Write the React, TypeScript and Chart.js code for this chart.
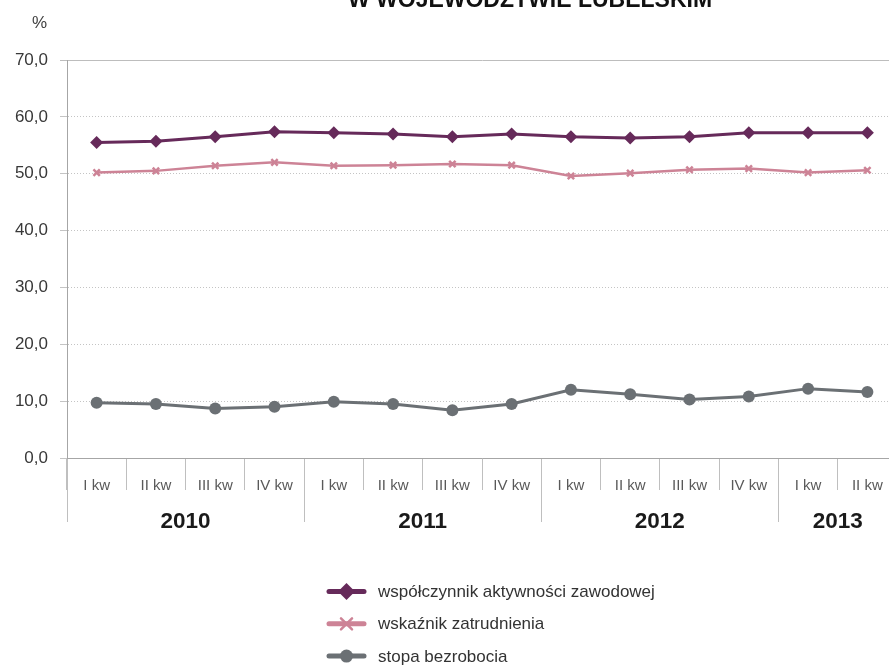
import React, { useEffect, useRef } from 'react';
import { Chart, registerables } from 'chart.js';

Chart.register(...registerables);

// ---- data ----
const quarterLabels = ['I kw', 'II kw', 'III kw', 'IV kw', 'I kw', 'II kw', 'III kw', 'IV kw', 'I kw', 'II kw', 'III kw', 'IV kw', 'I kw', 'II kw'];
const yearLabels = ['2010', '2011', '2012', '2013'];
const yearQuarterCounts = [4, 4, 4, 2];
const activityRate = [55.5, 55.7, 56.5, 57.4, 57.2, 57.0, 56.5, 57.0, 56.5, 56.3, 56.5, 57.2, 57.2, 57.2];
const employmentRate = [50.2, 50.5, 51.4, 52.0, 51.4, 51.5, 51.7, 51.5, 49.6, 50.1, 50.7, 50.9, 50.2, 50.6];
const unemploymentRate = [9.7, 9.5, 8.7, 9.0, 9.9, 9.5, 8.4, 9.5, 12.0, 11.2, 10.3, 10.8, 12.2, 11.6];
const seriesNames = ['współczynnik aktywności zawodowej', 'wskaźnik zatrudnienia', 'stopa bezrobocia'];
const yMin = 0;
const yMax = 70;
const yStep = 10;
const titleText = 'W WOJEWÓDZTWIE LUBELSKIM';
const unitText = '%';

// ---- derived year boundaries / centres (in category index units) ----
const yearBoundaries: number[] = [-0.5];
const yearCenters: number[] = [];
{
  let start = -0.5;
  yearQuarterCounts.forEach((n) => {
    yearCenters.push(start + n / 2);
    start += n;
    yearBoundaries.push(start);
  });
}

const SANS = "'Liberation Sans', Arial, sans-serif";

const colors = ['#662a5a', '#cd8396', '#6b7074'];

function drawMarker(ctx: CanvasRenderingContext2D, style: string, x: number, y: number, color: string) {
  ctx.save();
  ctx.fillStyle = color;
  ctx.strokeStyle = color;
  if (style === 'rectRot') {
    const r = 8.5;
    ctx.beginPath();
    ctx.moveTo(x - r, y);
    ctx.lineTo(x, y - r);
    ctx.lineTo(x + r, y);
    ctx.lineTo(x, y + r);
    ctx.closePath();
    ctx.fill();
  } else if (style === 'crossRot') {
    const r = 5.5;
    ctx.lineWidth = 2.5;
    ctx.beginPath();
    ctx.moveTo(x - r, y - r);
    ctx.lineTo(x + r, y + r);
    ctx.moveTo(x + r, y - r);
    ctx.lineTo(x - r, y + r);
    ctx.stroke();
  } else {
    ctx.beginPath();
    ctx.arc(x, y, 6.5, 0, Math.PI * 2);
    ctx.fill();
  }
  ctx.restore();
}

const decorPlugin = {
  id: 'decor',
  afterDraw(chart: any) {
    const ctx: CanvasRenderingContext2D = chart.ctx;
    ctx.save();
    // title (cut off at top edge, as in the reference)
    ctx.fillStyle = '#111';
    ctx.font = `bold 23px ${SANS}`;
    ctx.textAlign = 'center';
    ctx.textBaseline = 'alphabetic';
    ctx.fillText(titleText, 530, 7);
    // unit label
    ctx.fillStyle = '#404040';
    ctx.font = `17px ${SANS}`;
    ctx.textAlign = 'right';
    ctx.textBaseline = 'middle';
    ctx.fillText(unitText, 47, 23);
    // legend column
    const lx = 327;
    const ly = 591.5;
    const gap = 32.3;
    chart.data.datasets.forEach((ds: any, i: number) => {
      const y = ly + i * gap;
      ctx.save();
      ctx.strokeStyle = ds.borderColor;
      ctx.lineWidth = 5;
      ctx.lineCap = 'round';
      ctx.beginPath();
      ctx.moveTo(lx + 2, y);
      ctx.lineTo(lx + 37, y);
      ctx.stroke();
      drawMarker(ctx, ds.pointStyle, lx + 19.5, y, ds.borderColor);
      ctx.fillStyle = '#333';
      ctx.font = `17px ${SANS}`;
      ctx.textAlign = 'left';
      ctx.textBaseline = 'middle';
      ctx.fillText(ds.label, lx + 51, y + 1);
      ctx.restore();
    });
    ctx.restore();
  },
};

export default function App() {
  const canvasRef = useRef<HTMLCanvasElement | null>(null);

  useEffect(() => {
    if (!canvasRef.current) return;
    const chart = new Chart(canvasRef.current, {
      type: 'line',
      data: {
        labels: quarterLabels,
        datasets: [
          {
            label: seriesNames[0],
            data: activityRate,
            borderColor: colors[0],
            backgroundColor: colors[0],
            borderWidth: 3,
            pointStyle: 'rectRot',
            pointRadius: 6.5,
            pointBorderWidth: 0,
            tension: 0,
            xAxisID: 'x',
          },
          {
            label: seriesNames[1],
            data: employmentRate,
            borderColor: colors[1],
            backgroundColor: colors[1],
            borderWidth: 2.5,
            pointStyle: 'crossRot',
            pointRadius: 4.5,
            pointBorderWidth: 2.5,
            tension: 0,
            xAxisID: 'x',
          },
          {
            label: seriesNames[2],
            data: unemploymentRate,
            borderColor: colors[2],
            backgroundColor: colors[2],
            borderWidth: 3,
            pointStyle: 'circle',
            pointRadius: 6,
            pointBorderWidth: 0,
            tension: 0,
            xAxisID: 'x',
          },
        ],
      },
      options: {
        responsive: false,
        animation: false,
        events: [],
        layout: { padding: { top: 60, left: 0, right: 0, bottom: 168 } },
        plugins: {
          legend: { display: false },
          title: { display: false },
          tooltip: { enabled: false },
        },
        scales: {
          x: {
            type: 'category',
            position: 'bottom',
            weight: 0,
            offset: true,
            grid: {
              display: true,
              offset: true,
              drawOnChartArea: false,
              drawTicks: true,
              tickLength: 32,
              color: '#bfbfbf',
              lineWidth: 1,
            },
            border: { display: true, color: '#a6a6a6', width: 1 },
            ticks: {
              autoSkip: false,
              maxRotation: 0,
              padding: -13,
              color: '#595959',
              font: { family: SANS, size: 15 },
            },
            afterFit: (axis: any) => {
              axis.height = 40;
            },
          },
          x2: {
            type: 'linear',
            position: { y: 0 },
            min: -0.5,
            max: quarterLabels.length - 0.5,
            afterBuildTicks: (axis: any) => {
              axis.ticks = [...yearBoundaries, ...yearCenters]
                .sort((a, b) => a - b)
                .map((v) => ({ value: v }));
            },
            grid: {
              display: true,
              drawOnChartArea: false,
              drawTicks: true,
              tickLength: 64,
              lineWidth: 1,
              color: (c: any) =>
                c.tick && yearBoundaries.includes(c.tick.value) ? '#bfbfbf' : 'rgba(0,0,0,0)',
            },
            border: { display: false },
            ticks: {
              autoSkip: false,
              maxRotation: 0,
              padding: -14,
              color: '#1a1a1a',
              font: { family: SANS, size: 22.5, weight: 'bold' },
              callback: (v: any) => {
                const idx = yearCenters.indexOf(Number(v));
                return idx >= 0 ? yearLabels[idx] : '';
              },
            },
          },
          y: {
            type: 'linear',
            min: yMin,
            max: yMax,
            ticks: {
              stepSize: yStep,
              padding: 12,
              color: '#383838',
              font: { family: SANS, size: 17 },
              callback: (v: any) => Number(v).toFixed(1).replace('.', ','),
            },
            grid: {
              display: true,
              drawTicks: true,
              tickLength: 7,
              lineWidth: 1,
              color: (c: any) => (c.tick && c.tick.value === yMax ? '#bdbdbd' : '#c4c4c4'),
            },
            border: {
              display: true,
              color: '#a6a6a6',
              width: 1,
              dash: (c: any) =>
                c.tick && c.tick.value !== yMax && c.tick.value !== yMin ? [1, 2] : [],
            },
            afterFit: (axis: any) => {
              axis.width = 67;
            },
          },
        },
      } as any,
      plugins: [decorPlugin],
    });
    return () => chart.destroy();
  }, []);

  return (
    <div style={{ position: 'fixed', left: 0, top: 0, width: 889, height: 666, overflow: 'hidden', background: '#fff' }}>
      <canvas ref={canvasRef} width={904} height={666} style={{ display: 'block' }} />
    </div>
  );
}
